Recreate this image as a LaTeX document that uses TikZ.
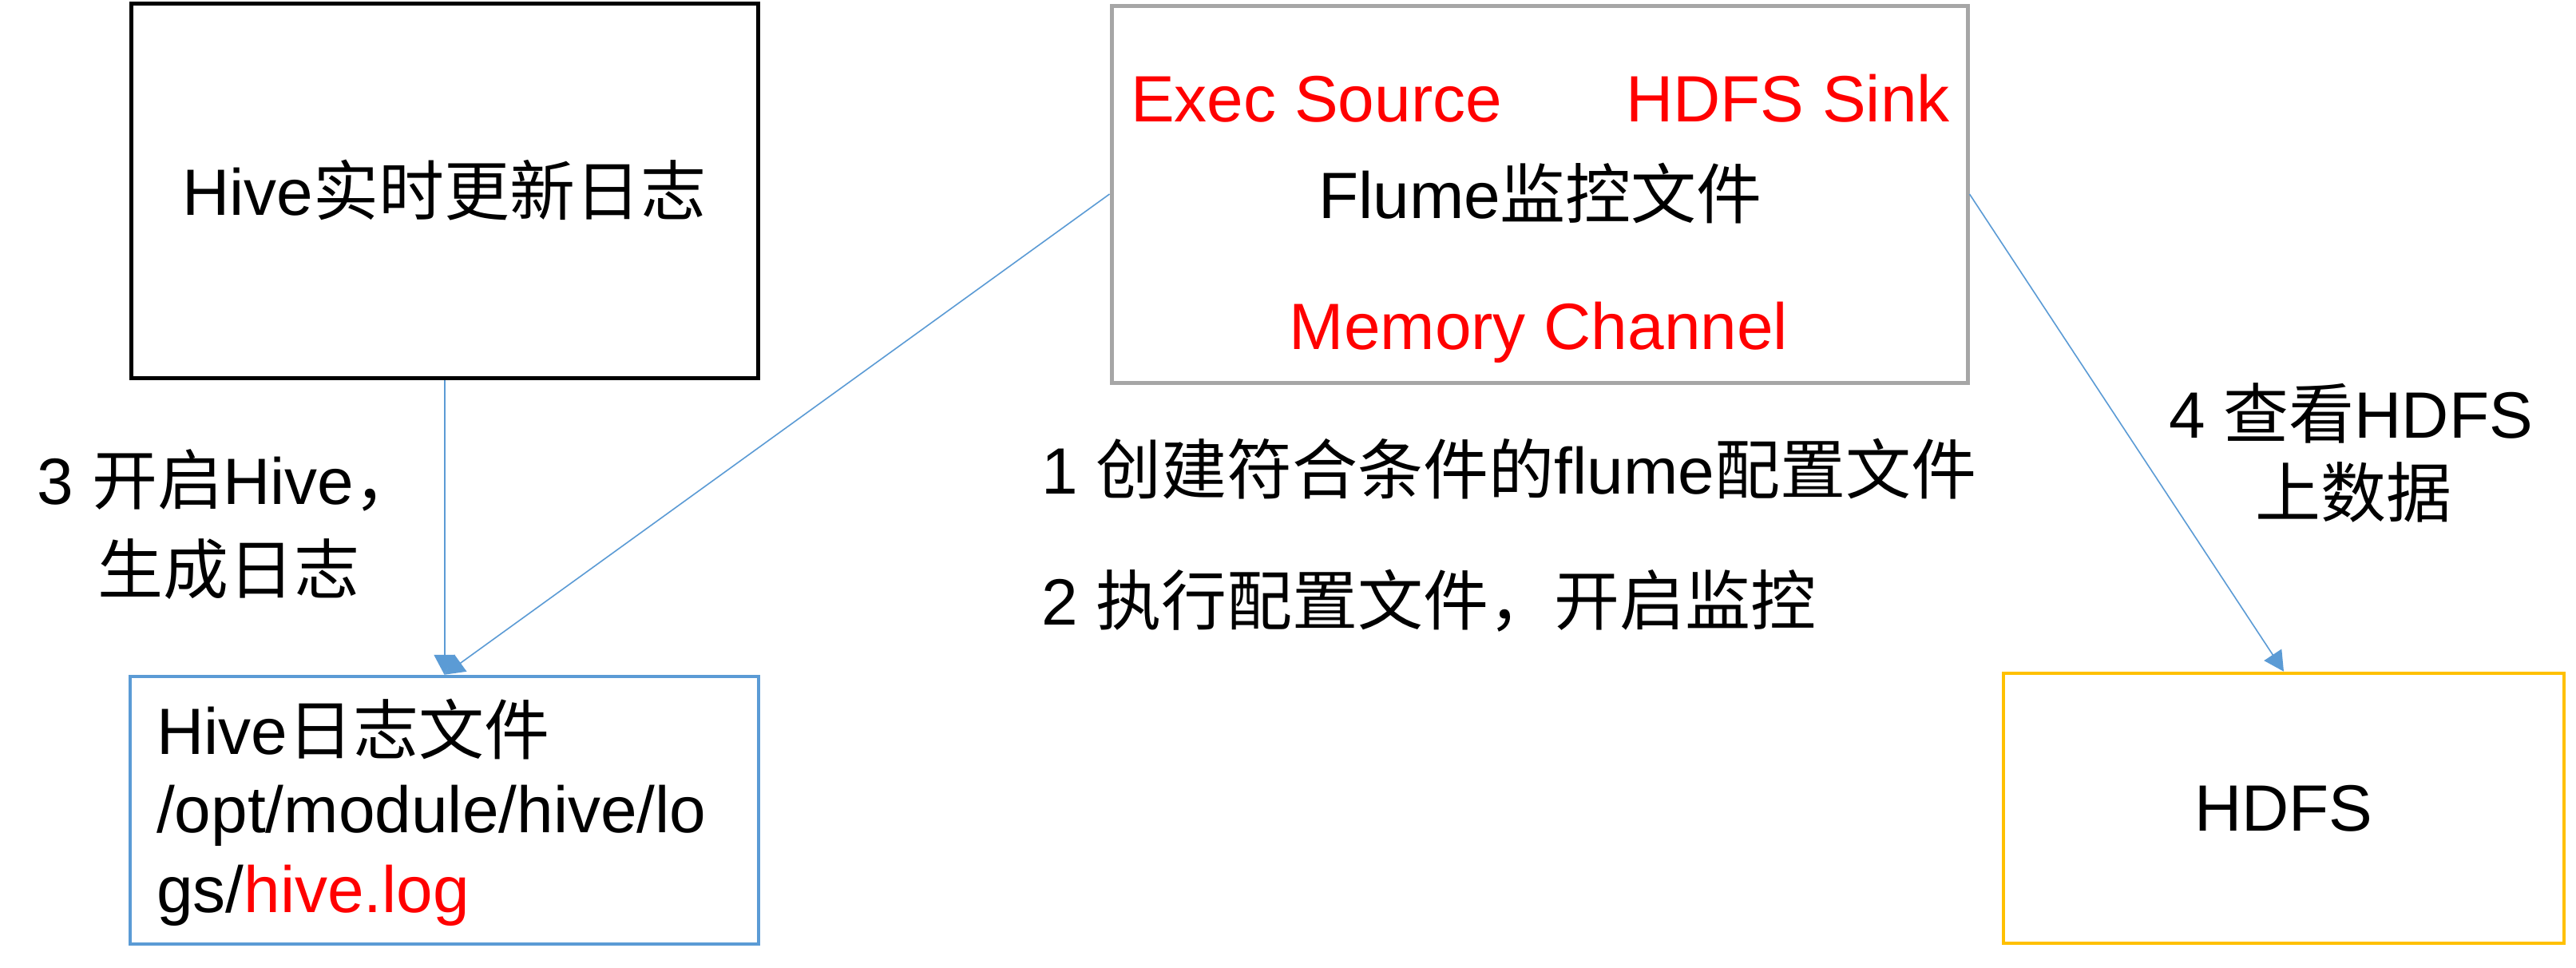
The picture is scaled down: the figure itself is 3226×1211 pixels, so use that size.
\documentclass[tikz,border=0pt]{standalone}
\usepackage{fontspec}
\setmainfont{Liberation Sans}
\newfontfamily\cjk{Noto Sans CJK SC}
\newcommand\zht[1]{{\cjk #1}}
\usetikzlibrary{arrows.meta}
\definecolor{arrowblue}{HTML}{5B9BD5}
\definecolor{boxgray}{HTML}{A6A6A6}
\definecolor{boxgold}{HTML}{FFC000}
\definecolor{txtred}{HTML}{FF0000}
\begin{document}
\begin{tikzpicture}[x=1pt,y=-1pt,
  txt/.style={inner sep=0pt, font=\fontsize{82}{99}\selectfont},
  frame/.style={draw, rectangle, inner sep=0pt, line width=5pt, font=\fontsize{82}{99}\selectfont},
  conn/.style={draw=arrowblue, line width=1.6pt, -{Triangle[length=25pt,width=26pt]}}]
\fill[white] (0,0) rectangle (3226,1211);
\useasboundingbox (0,0) rectangle (3226,1211);
% boxes
\node[frame, draw=black, minimum width=785pt, minimum height=469pt] (hive) at (556.5,238.5) {Hive\zht{实时更新日志}};
\node[frame, draw=boxgray, minimum width=1072pt, minimum height=472pt] (flume) at (1928,243) {};
\node[frame, draw=arrowblue, line width=4.5pt, minimum width=787pt, minimum height=335pt] (log) at (556.5,1014.5) {};
\node[frame, draw=boxgold, line width=4.5pt, minimum width=702pt, minimum height=338pt] (hdfs) at (2860,1012) {HDFS};
% flume box texts
\node[txt, text=txtred, anchor=base west] (src) at (1416,152) {Exec Source};
\node[txt, text=txtred, anchor=base west] (sink) at (2036,152) {HDFS Sink};
\node[txt, anchor=base] (ft) at (1929,273) {Flume\zht{监控文件}};
\node[txt, text=txtred, anchor=base] (mc) at (1927,437) {Memory Channel};
% log box texts
\node[txt, anchor=base west] (l1) at (196,944) {Hive\zht{日志文件}};
\node[txt, anchor=base west] (l2) at (196,1042) {/opt/module/hive/lo};
\node[txt, anchor=base west] (l3) at (196,1142) {gs/\textcolor{txtred}{hive.log}};
% step labels
\node[txt, anchor=base] (s3a) at (286,631) {3 \zht{开启}Hive\zht{，}};
\node[txt, anchor=base] (s3b) at (286,743) {\zht{生成日志}};
\node[txt, anchor=base west] (s1) at (1304,618) {1 \zht{创建符合条件的}flume\zht{配置文件}};
\node[txt, anchor=base west] (s2) at (1304,782) {2 \zht{执行配置文件，开启监控}};
\node[txt, anchor=base] (s4a) at (2944,548) {4 \zht{查看}HDFS};
\node[txt, anchor=base] (s4b) at (2947,647) {\zht{上数据}};
% connectors
\draw[conn, line width=2pt] (hive.south) -- (log.north);
\draw[conn] (flume.west) -- (log.north);
\draw[conn] (flume.east) -- (hdfs.north);
\end{tikzpicture}
\end{document}
